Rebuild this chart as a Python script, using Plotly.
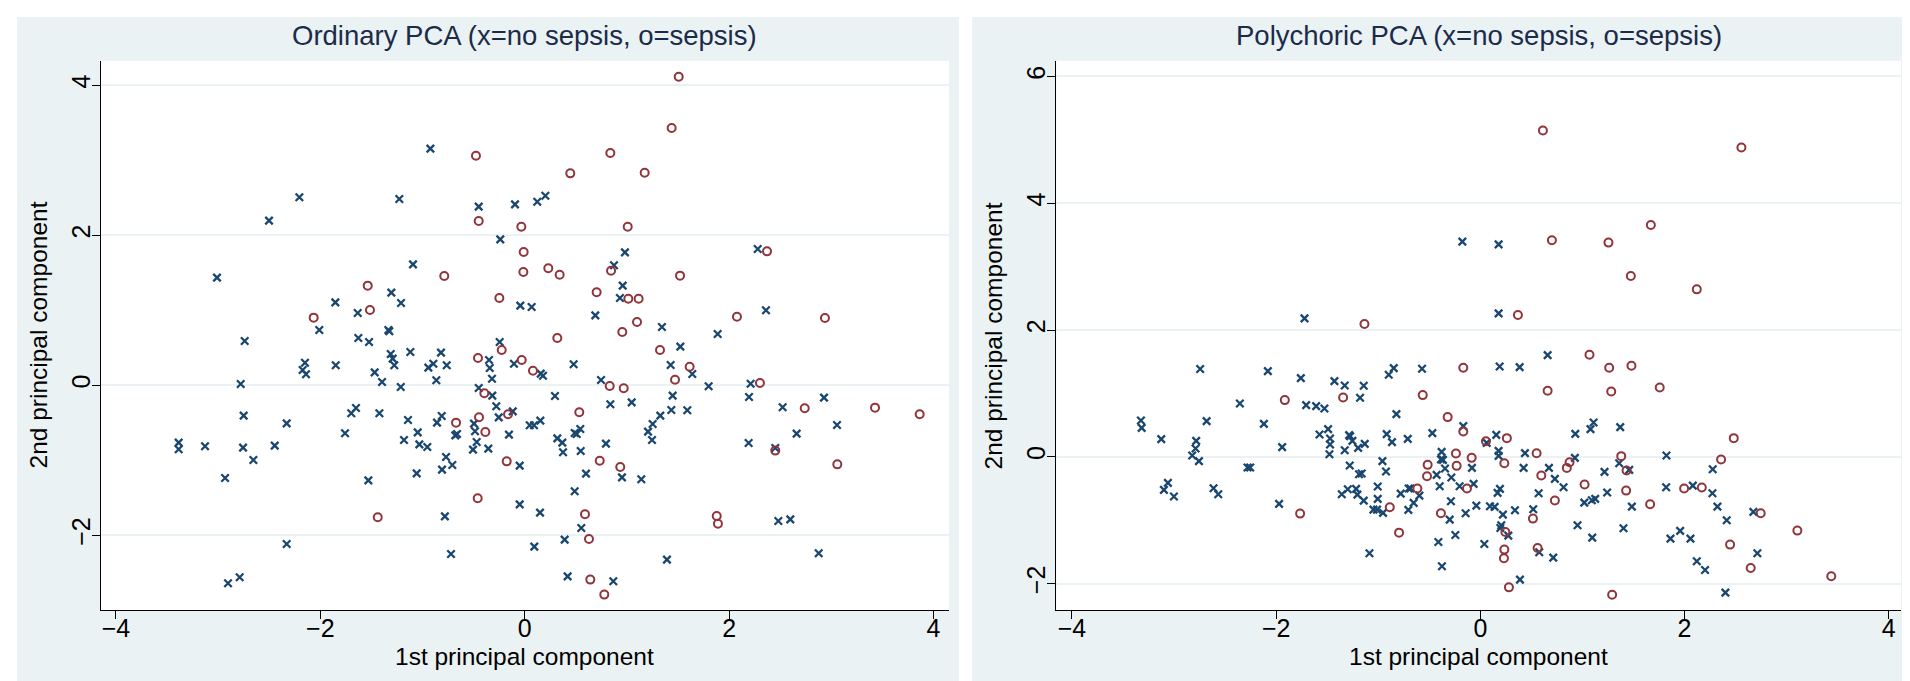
import plotly.graph_objects as go

W, H = 1910, 681

# ---------------- Ordinary PCA ----------------
ord_nosep_x = [-0.923, -2.205, -1.227, -0.45, -0.095, -2.502, -0.239, -1.093, -3.011, -1.305,
               -1.853, -1.21, -0.043, -1.634, -2.01, -1.334, -1.325, -1.628, -2.74, 0.123,
               0.202, 0.981, 2.28, 0.874, 0.959, 0.932, 0.068, 0.691, 2.361, 1.343,
               1.888, -1.523, -2.15, -2.173, -2.14, -1.849, -1.311, -1.292, -1.276, -1.119,
               -0.819, -1.468, -1.396, -1.213, -0.943, -0.894, -0.763, -0.865, -0.349, -0.342,
               -0.245, -0.105, -0.32, -0.45, -0.317, -0.278, -0.117, -0.254, -0.154, -0.496,
               -0.486, -0.47, -0.506, -0.356, -0.679, -0.662, -0.858, -0.812, -1.142, -1.047,
               -1.181, -1.031, -0.953, -0.77, -0.708, -0.809, -1.057, -0.049, -1.422, -1.697,
               -1.651, -1.758, -1.53, -2.329, -2.446, -2.75, -2.779, -2.756, -2.655, -2.932,
               -3.128, -3.386, -3.386, -2.329, -2.789, -2.903, -0.781, -0.721, -0.049, 0.049,
               0.091, 0.153, 1.523, 0.157, 0.179, 0.479, 0.747, 1.428, 1.64, 1.8,
               2.211, 0.296, 1.448, 2.195, 0.838, 1.047, 1.435, 1.591, 1.327, 1.252,
               1.207, 1.246, 0.319, 0.368, 0.375, 0.489, 0.544, 0.548, 0.795, 0.6,
               0.952, 1.141, 0.489, 0.15, 0.554, 0.391, 0.094, 1.392, 0.42, 0.867,
               2.482, 2.599, 2.877, 2.191, 2.452, 2.524, 2.929, 2.661, 3.056, 0.509]
ord_nosep_y = [3.155, 2.507, 2.484, 2.382, 2.413, 2.195, 1.946, 1.613, 1.435, 1.235,
               1.106, 1.097, 1.062, 0.964, 0.737, 0.737, 0.72, 0.631, 0.591, 2.448,
               2.528, 1.773, 1.817, 1.6, 1.329, 1.164, 1.044, 0.933, 1.0, 0.777,
               0.684, 0.577, 0.301, 0.204, 0.147, 0.267, 0.417, 0.355, 0.267, 0.444,
               0.435, 0.173, 0.044, -0.023, 0.235, 0.288, 0.267, 0.067, 0.337, 0.231,
               0.577, 0.288, 0.088, -0.036, -0.138, -0.28, -0.347, -0.427, -0.658, -0.511,
               -0.613, -0.756, -0.858, -0.845, -0.667, -0.649, -0.498, -0.409, -0.462, -0.627,
               -0.729, -0.787, -0.823, -0.956, -1.063, -1.125, -1.174, -1.071, -0.373, -0.373,
               -0.303, -0.64, -1.267, -0.507, -0.804, -0.404, 0.018, -0.831, -0.996, -1.236,
               -0.813, -0.765, -0.853, -2.116, -2.56, -2.64, -1.747, -2.249, -1.587, -0.533,
               -0.533, -0.471, 0.515, 0.155, 0.128, 0.28, 0.071, 0.271, 0.151, -0.013,
               0.021, -0.143, -0.138, -0.156, -0.253, -0.227, -0.329, -0.333, -0.404, -0.516,
               -0.618, -0.729, -0.707, -0.764, -0.893, -0.636, -0.582, -0.876, -0.778, -1.178,
               -1.227, -1.253, -1.413, -1.698, -1.903, -2.058, -2.151, -2.325, -2.547, -2.613,
               -1.809, -1.787, -2.24, -0.769, -0.836, -0.293, -0.165, -0.644, -0.529, -0.65]

ord_sep_x = [-0.477, -0.45, -0.033, -0.01, -0.787, -0.013, -1.536, -0.248, -1.514, -2.065,
             1.507, 1.438, 0.838, 0.446, 1.174, 1.008, 2.371, 0.231, 0.342, 0.845,
             1.52, 0.704, 1.014, 1.115, 2.077, 2.938, 1.099, 0.955, 0.319, -0.457,
             -0.225, -0.029, -0.395, -0.163, -0.447, -0.385, -0.672, -0.176, -1.438, -0.46,
             1.324, 0.081, 0.832, 0.969, 1.614, 1.471, 2.302, 0.534, 0.734, 0.935,
             0.59, 0.629, 0.642, 0.779, 1.879, 1.891, 2.452, 2.74, 3.059, 3.428, 3.865]
ord_sep_y = [3.061, 2.19, 2.115, 1.777, 1.457, 1.51, 1.329, 1.164, 1.004, 0.902,
             4.115, 3.431, 3.097, 2.826, 2.835, 2.115, 1.786, 1.56, 1.475, 1.528,
             1.462, 1.24, 1.155, 1.155, 0.915, 0.897, 0.844, 0.711, 0.631, 0.364,
             0.471, 0.337, -0.107, -0.387, -0.427, -0.622, -0.498, -1.014, -1.76, -1.507,
             0.471, 0.195, -0.009, -0.04, 0.248, 0.075, 0.031, -0.36, -1.005, -1.089,
             -1.72, -2.049, -2.591, -2.791, -1.742, -1.845, -0.871, -0.307, -1.054, -0.298, -0.387]

# ---------------- Polychoric PCA ----------------
poly_nosep_x = [-1.722, -0.176, 0.179, 0.179, -2.744, -2.081, -1.758, -1.429, -1.328, -1.142,
                -0.897, -0.848, -0.571, -1.178, -1.706, -1.608, -1.527, -2.355, -0.822, -3.324,
                -3.317, -2.681, -2.12, -3.125, -2.783, -2.789, -2.822, -2.756, -1.941, -1.491,
                -1.575, -1.472, -1.472, -1.478, -1.285, -1.275, -1.253, -1.328, -1.197, -1.132,
                -0.917, -0.865, -0.711, -0.47, -0.167, -0.379, -0.366, -0.385, -0.346, -0.428,
                -0.284, -0.398, -0.203, -0.702, -0.685, -0.597, -0.653, -0.705, -0.78, -0.959,
                -0.924, -1.279, -1.188, -1.162, -1.005, -1.005, -1.357, -1.298, -1.217, -1.204,
                -1.142, -1.047, -1.012, -0.953, -1.086, -0.376, -0.411, -0.245, -0.3, -0.288,
                -0.144, -1.971, -2.613, -2.567, -2.28, -2.254, -3.099, -3.06, -3.001, 0.189,
                0.385, 0.659, 0.156, 0.062, 0.179, 0.179, 0.437, -0.082, 0.424, 0.672,
                0.73, 0.815, 0.926, 0.93, 1.079, 1.109, 1.37, 1.36, 1.458, 1.216,
                1.242, 1.018, 1.092, 1.125, 0.571, 0.518, 0.339, 0.221, 0.169, 0.192,
                -0.066, -0.039, 0.094, 0.14, 0.205, 0.274, 0.196, 0.577, 0.714, 0.039,
                0.388, 0.952, 1.096, 1.402, 1.484, 1.823, 1.82, 2.081, 2.276, 2.273,
                2.322, 2.413, 2.674, 2.713, 2.12, 2.201, 1.862, 1.957, 2.058, 2.4]
poly_nosep_y = [2.184, 3.395, 3.352, 2.263, 1.385, 1.353, 1.242, 1.195, 1.126, 1.121,
                1.295, 1.4, 1.39, 0.932, 0.816, 0.8, 0.763, 0.842, 0.674, 0.573,
                0.458, 0.563, 0.521, 0.279, 0.253, 0.131, 0.021, -0.068, 0.153, 0.437,
                0.353, 0.289, 0.195, 0.042, 0.342, 0.325, 0.253, 0.105, 0.142, 0.205,
                0.358, 0.232, 0.284, 0.374, 0.484, 0.079, -0.047, -0.04, -0.184, -0.284,
                -0.326, -0.463, -0.463, -0.5, -0.5, -0.611, -0.726, -0.837, -0.579, -0.068,
                -0.231, -0.137, -0.274, -0.263, -0.468, -0.663, -0.59, -0.511, -0.505, -0.595,
                -0.69, -0.832, -0.832, -0.884, -1.521, -1.726, -1.342, -1.232, -0.99, -0.7,
                -0.889, -0.742, -0.495, -0.589, -0.168, -0.168, -0.521, -0.411, -0.626, 1.426,
                1.416, 1.605, 0.347, 0.221, 0.095, 0.016, 0.058, -0.174, -0.174, -0.174,
                -0.347, -0.479, -0.016, 0.363, 0.437, 0.542, 0.469, -0.1, -0.205, -0.237,
                -0.563, -0.721, -0.684, -0.663, -0.574, -0.826, -0.842, -0.911, -0.568, -0.505,
                -0.426, -0.769, -0.779, -0.789, -1.079, -1.242, -1.121, -1.505, -1.59, -1.374,
                -1.937, -1.079, -1.274, -1.126, -0.784, 0.021, -0.479, -0.453, -0.195, -0.574,
                -0.784, -1.0, -0.868, -1.521, -1.647, -1.784, -1.289, -1.168, -1.289, -2.142]

poly_sep_x = [-1.135, 0.613, 2.557, 0.701, 1.255, 1.67, 1.474, 2.12, 0.368, -0.167,
              -1.344, -0.564, -1.915, -0.32, -0.167, -0.239, -0.232, -0.516, -0.522, -0.131,
              -0.617, -0.887, -0.796, -0.386, -1.765, 1.069, 1.262, 1.48, 0.659, 1.282,
              1.757, 0.26, 0.055, 0.551, -0.085, 0.235, 0.597, 0.874, 0.847, 1.38,
              1.432, 1.021, 1.428, 0.73, 0.515, 0.245, 0.235, 0.231, 0.561, 0.28,
              1.291, 1.663, 1.996, 2.169, 2.358, 2.482, 2.746, 3.105, 2.446, 2.648, 3.437]
poly_sep_y = [2.095, 5.148, 4.879, 3.416, 3.379, 3.658, 2.853, 2.642, 2.237, 1.405,
              0.937, 0.974, 0.895, 0.627, 0.4, 0.053, -0.142, -0.126, -0.305, -0.5,
              -0.5, -0.795, -1.195, -0.889, -0.895, 1.611, 1.405, 1.437, 1.042, 1.032,
              1.095, 0.295, 0.247, 0.058, -0.016, -0.1, -0.295, -0.084, -0.174, 0.011,
              -0.216, -0.437, -0.532, -0.689, -0.974, -1.184, -1.463, -1.6, -1.437, -2.058,
              -2.174, -0.747, -0.5, -0.484, -0.042, 0.295, -0.889, -1.163, -1.384, -1.753, -1.884]

x_ticks = [-4, -2, 0, 2, 4]
ord_y_ticks = [-2, 0, 2, 4]
poly_y_ticks = [-2, 0, 2, 4, 6]

titles = ["Ordinary PCA (x=no sepsis, o=sepsis)", "Polychoric PCA (x=no sepsis, o=sepsis)"]
x_title = "1st principal component"
y_title = "2nd principal component"

NAVY = "#1a476f"
MAROON = "#90353b"
BG = "#eaf2f3"
FONT = "Liberation Sans, Arial, sans-serif"


def fx(p):
    return p / W


def fy(p):
    return 1 - p / H


fig = go.Figure()

for xs, ys, xa, ya in [(ord_nosep_x, ord_nosep_y, "x", "y"), (poly_nosep_x, poly_nosep_y, "x2", "y2")]:
    fig.add_trace(go.Scatter(x=xs, y=ys, mode="markers", xaxis=xa, yaxis=ya,
                             marker=dict(symbol="x-thin", size=7.5, color=NAVY,
                                         line=dict(color=NAVY, width=2.3))))
for xs, ys, xa, ya in [(ord_sep_x, ord_sep_y, "x", "y"), (poly_sep_x, poly_sep_y, "x2", "y2")]:
    fig.add_trace(go.Scatter(x=xs, y=ys, mode="markers", xaxis=xa, yaxis=ya,
                             marker=dict(symbol="circle-open", size=8, color=MAROON,
                                         line=dict(color=MAROON, width=2))))

panels = [
    dict(bg=(9, 951), plot=(92.7, 941)),
    dict(bg=(964, 1904), plot=(1048.3, 1893)),
]
plot_top, plot_bot = 52.7, 602.3

shapes = []
for p in panels:
    shapes.append(dict(type="rect", xref="paper", yref="paper", layer="below",
                       x0=fx(p["bg"][0]), x1=fx(p["bg"][1]), y0=fy(678), y1=fy(9),
                       fillcolor=BG, line=dict(width=0)))
    shapes.append(dict(type="rect", xref="paper", yref="paper", layer="below",
                       x0=fx(p["plot"][0]), x1=fx(p["plot"][1]), y0=fy(plot_bot), y1=fy(plot_top),
                       fillcolor="white", line=dict(width=0)))

axis_common = dict(showline=True, linecolor="black", linewidth=1.2, ticks="outside",
                   ticklen=8, tickwidth=1.2, tickcolor="black", zeroline=False,
                   tickfont=dict(family=FONT, size=25, color="black"))

xcommon = dict(axis_common, showgrid=False, tickvals=x_ticks, ticklabelstandoff=-12)
ycommon = dict(axis_common, showgrid=True, gridcolor=BG, gridwidth=2, tickangle=-90,
               ticklabelstandoff=-8)

fig.update_layout(
    width=W, height=H, margin=dict(l=0, r=0, t=0, b=0),
    paper_bgcolor="white", plot_bgcolor="white", showlegend=False,
    shapes=shapes,
    xaxis=dict(xcommon, domain=[fx(92.7), fx(941)], range=[-4.149, 4.152], anchor="y"),
    yaxis=dict(ycommon, domain=[fy(plot_bot), fy(plot_top)], range=[-3.0, 4.328],
               tickvals=ord_y_ticks, anchor="x"),
    xaxis2=dict(xcommon, domain=[fx(1048.3), fx(1893)], range=[-4.153, 4.12], anchor="y2"),
    yaxis2=dict(ycommon, domain=[fy(plot_bot), fy(plot_top)], range=[-2.42, 6.248],
                tickvals=poly_y_ticks, anchor="x2"),
)

ann = []
for p, t in zip(panels, titles):
    cx = (p["plot"][0] + p["plot"][1]) / 2
    ann.append(dict(text=t, x=fx(cx), y=fy(28), xref="paper", yref="paper",
                    xanchor="center", yanchor="middle", showarrow=False,
                    font=dict(family=FONT, size=27.5, color="#1c2b4a")))
    ann.append(dict(text=x_title, x=fx(cx), y=fy(648), xref="paper", yref="paper",
                    xanchor="center", yanchor="middle", showarrow=False,
                    font=dict(family=FONT, size=24.5, color="black")))
    ann.append(dict(text=y_title, x=fx(p["bg"][0] + 21), y=fy((plot_top + plot_bot) / 2),
                    xref="paper", yref="paper", textangle=-90,
                    xanchor="center", yanchor="middle", showarrow=False,
                    font=dict(family=FONT, size=24.5, color="black")))
fig.update_layout(annotations=ann)

fig.write_html("out.html")
